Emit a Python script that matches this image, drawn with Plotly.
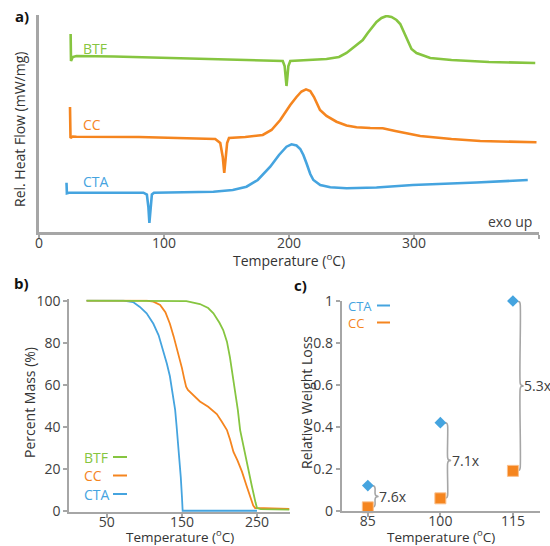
import plotly.graph_objects as go

# ---------------- data ----------------
# a) DSC curves (relative heat flow, arbitrary stacked units)
dsc_btf_T = [25.3, 25.6, 27, 30, 60, 126, 180, 195, 196.5, 197.3, 198, 198.7, 199.5, 201, 215, 230, 240, 246, 250, 255, 259, 263, 267, 270, 274, 278, 282, 286, 289, 292, 295, 298, 302, 308, 313, 330, 360, 397]
dsc_btf_v = [198, 171, 175, 176, 175.5, 173.5, 172, 171, 166, 155, 146, 155, 166, 171, 172, 173, 175, 179, 183, 188, 192, 199, 206, 210, 214, 216, 215, 212, 208, 200, 191, 183, 179, 176, 174, 172, 170, 169]

dsc_cc_T = [24.8, 25.2, 27, 30, 80, 137, 141, 145, 147, 148.2, 149.3, 150.5, 152, 165, 179, 186, 193, 201, 206, 210, 213.6, 217, 220, 224.8, 230, 238, 246, 254, 265, 275, 285, 305, 330, 353, 398]
dsc_cc_v = [125, 94, 95.5, 95.3, 95, 93.3, 93, 89, 75, 59, 75, 89, 94, 95, 97, 102, 112, 127, 135, 140.5, 142.7, 141, 135, 122, 116, 110.3, 106.5, 104.7, 104, 103.7, 101, 96, 93, 91, 89.7]

dsc_cta_T = [22, 22.3, 24, 30, 83.5, 86.3, 87.5, 88.3, 89.1, 90.3, 92, 139.5, 155, 166, 175, 185, 192, 198, 202, 206, 209, 211.5, 214, 217, 219.5, 225, 233, 246, 270, 299, 350, 391]
dsc_cta_v = [49.3, 38.7, 39.3, 39.3, 39.3, 37.5, 25, 9, 25, 37.5, 39.3, 40.3, 42, 45.3, 52, 65.3, 77, 85.3, 87.7, 86.5, 83, 77, 68.7, 58, 52, 47, 44.7, 43.7, 44.5, 47, 49.5, 52]

# b) TGA curves (percent mass)
tga_btf_T = [23, 100, 156, 174, 185, 192, 200, 205, 210, 214, 217.5, 221, 224.5, 227.6, 232, 236.5, 243, 248, 250, 255, 293]
tga_btf_m = [100, 100, 99.8, 98.4, 96.5, 94, 89.5, 86, 80.5, 73, 65, 57.5, 48, 38.4, 30.5, 22.7, 12, 4, 1.3, 0.8, 0.5]

tga_cc_T = [23, 103, 112, 121, 128, 134, 139, 143, 147, 150, 153, 155.6, 158, 161, 168, 174, 185, 196.5, 203, 210, 214, 218.7, 224, 230, 236, 241, 245, 247.6, 255, 293]
tga_cc_m = [100, 100, 99.5, 98, 94.5, 89, 83, 78, 73, 68, 63, 59, 57.5, 56.5, 54, 52, 49.5, 46, 42.5, 38.4, 34, 28, 24, 18.6, 12, 6.7, 2.5, 1.3, 1.2, 0.9]

tga_cta_T = [23, 72, 85, 94, 103, 112, 119, 125, 130, 134, 138, 141, 143, 145, 147, 148.5, 150, 151, 250]
tga_cta_m = [100, 100, 99.3, 97, 94, 89, 83.5, 76.5, 70, 64, 56, 48, 40, 32, 23, 16, 7, 0, 0]

# c) relative weight loss
iso_T = [85, 100, 115]
iso_cta = [0.12, 0.42, 1.0]
iso_cc = [0.016, 0.059, 0.19]
ratio_labels = ["7.6x", "7.1x", "5.3x"]

# ---------------- style ----------------
GREEN = "#86c540"
ORANGE = "#f5851f"
BLUE = "#45a4df"
AXIS = "#a6a6a6"
TXT = "#404040"
FONT = "Open Sans"
W, H = 550, 546


def px(x):
    return x / W


def py(y):
    return 1 - y / H


fig = go.Figure()

# a) DSC
for T, v, c in [(dsc_btf_T, dsc_btf_v, GREEN), (dsc_cc_T, dsc_cc_v, ORANGE), (dsc_cta_T, dsc_cta_v, BLUE)]:
    fig.add_trace(go.Scatter(x=T, y=v, mode="lines", line=dict(color=c, width=2.6),
                             xaxis="x", yaxis="y", hoverinfo="skip"))

# b) TGA
for T, m, c in [(tga_cta_T, tga_cta_m, BLUE), (tga_cc_T, tga_cc_m, ORANGE), (tga_btf_T, tga_btf_m, GREEN)]:
    fig.add_trace(go.Scatter(x=T, y=m, mode="lines", line=dict(color=c, width=1.8),
                             xaxis="x2", yaxis="y2", hoverinfo="skip"))

# c) braces
for t, top, bot in zip(iso_T, iso_cta, iso_cc):
    mid = (top + bot) / 2
    d = 0.014
    bx = [t + 0.9, t + 1.35, t + 1.5, t + 1.5, t + 1.65, t + 2.1, t + 1.65, t + 1.5, t + 1.5, t + 1.35, t + 0.9]
    by = [top, top - 0.3 * d, top - d, mid + d, mid + 0.3 * d, mid, mid - 0.3 * d, mid - d, bot + d, bot + 0.3 * d, bot]
    fig.add_trace(go.Scatter(x=bx, y=by, mode="lines", line=dict(color=AXIS, width=1.6, shape="spline", smoothing=0.8),
                             xaxis="x3", yaxis="y3", hoverinfo="skip"))

fig.add_trace(go.Scatter(x=iso_T, y=iso_cta, mode="markers",
                         marker=dict(symbol="diamond", size=9, color=BLUE),
                         xaxis="x3", yaxis="y3", cliponaxis=False, hoverinfo="skip"))
fig.add_trace(go.Scatter(x=iso_T, y=iso_cc, mode="markers",
                         marker=dict(symbol="square", size=11, color=ORANGE, line=dict(color="#fbc08c", width=1)),
                         xaxis="x3", yaxis="y3", cliponaxis=False, hoverinfo="skip"))

tickfont = dict(family=FONT, size=14, color=TXT)
common = dict(showgrid=False, zeroline=False, showline=True, linecolor=AXIS, automargin=False,
              tickfont=tickfont, ticks="outside", tickcolor=AXIS, tickwidth=1.5, ticklen=4)
xcommon = dict(common, ticklabelstandoff=-8)

fig.update_layout(
    width=W, height=H, margin=dict(l=0, r=0, t=0, b=0, pad=0), autosize=False,
    paper_bgcolor="white", plot_bgcolor="white", showlegend=False,
    font=dict(family=FONT, size=14, color=TXT),
    xaxis=dict(domain=[px(39), px(539)], range=[0, 400], tickvals=[0, 100, 200, 300, 400],
               linewidth=2.5, anchor="y", **xcommon),
    yaxis=dict(domain=[py(232), py(15)], range=[0, 217], showline=True, linecolor=AXIS, linewidth=2.5,
               showgrid=False, zeroline=False, showticklabels=False, ticks="", anchor="x", automargin=False),
    xaxis2=dict(domain=[px(69.3), px(290)], range=[0, 294], tickvals=[50, 150, 250],
                linewidth=2, anchor="y2", **xcommon),
    yaxis2=dict(domain=[py(512), py(299.4)], range=[-0.6, 100.6], tickvals=[0, 20, 40, 60, 80, 100],
                linewidth=2, anchor="x2", **common),
    xaxis3=dict(domain=[px(341.7), px(540)], range=[79.6, 120.6], tickvals=iso_T,
                linewidth=2, anchor="y3", **xcommon),
    yaxis3=dict(domain=[py(510.7), py(301)], range=[0, 1], tickvals=[0, 0.2, 0.4, 0.6, 0.8, 1],
                ticktext=["0", "0.2", "0.4", "0.6", "0.8", "1"],
                linewidth=2, anchor="x3", **common),
)

ann = []


def A(text, x, y, size=14, color=TXT, xanchor="center", angle=0, bold=False):
    ann.append(dict(text=("<b>%s</b>" % text) if bold else text, x=px(x), y=py(y), xref="paper", yref="paper",
                    showarrow=False, xanchor=xanchor, yanchor="middle", textangle=angle,
                    font=dict(family=FONT, size=size, color=color)))


# panel letters
A("a)", 13, 16, size=15, color="#111111", xanchor="left", bold=True)
A("b)", 12, 283, size=15, color="#111111", xanchor="left", bold=True)
A("c)", 292, 285, size=15, color="#111111", xanchor="left", bold=True)

# axis titles
A("Temperature (<sup>o</sup>C)", 289, 260, color="#333333")
A("Rel. Heat Flow (mW/mg)", 19, 130, color="#333333", angle=-90)
A("Temperature (<sup>o</sup>C)", 180, 536, size=13.5, color="#333333")
A("Percent Mass (%)", 29, 403, color="#333333", angle=-90)
A("Temperature (<sup>o</sup>C)", 441, 536, size=13.5, color="#333333")
A("Relative Weight Loss", 306, 403, color="#333333", angle=-90)

# a) labels
A("exo up", 534, 221, xanchor="right")
A("BTF", 81, 48, color=GREEN, xanchor="left")
A("CC", 81, 125, color=ORANGE, xanchor="left")
A("CTA", 81, 182, color=BLUE, xanchor="left")

# b) legend
shapes = []
for name, c, yy in [("BTF", GREEN, 457), ("CC", ORANGE, 475.5), ("CTA", BLUE, 494)]:
    A(name, 82, yy, color=c, xanchor="left")
    shapes.append(dict(type="line", xref="paper", yref="paper", x0=px(113), x1=px(127), y0=py(yy), y1=py(yy),
                       line=dict(color=c, width=2)))

# c) legend
for name, c, yy in [("CTA", BLUE, 305.5), ("CC", ORANGE, 322.5)]:
    A(name, 346, yy, size=13, color=c, xanchor="left")
    shapes.append(dict(type="line", xref="paper", yref="paper", x0=px(377), x1=px(390), y0=py(yy), y1=py(yy),
                       line=dict(color=c, width=2)))

# c) ratio labels
for t, top, bot, lab in zip(iso_T, iso_cta, iso_cc, ratio_labels):
    ann.append(dict(text=lab, x=t + 1.9, y=(top + bot) / 2, xref="x3", yref="y3", showarrow=False,
                    xanchor="left", yanchor="middle", font=dict(family=FONT, size=14, color=TXT)))

fig.update_layout(annotations=ann, shapes=shapes)

fig.write_html("out.html", config={"displayModeBar": False},
               post_script="document.body.style.margin='0';")
